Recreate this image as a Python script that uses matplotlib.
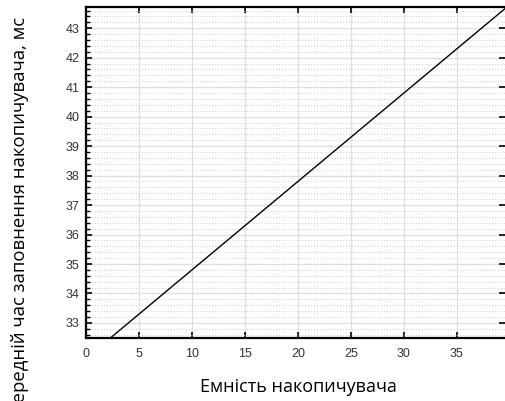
import numpy as np
import matplotlib
matplotlib.use('Agg')
import matplotlib.pyplot as plt
from matplotlib.ticker import MultipleLocator

# ємність накопичувача і середній час заповнення (мс)
capacity = [0, 10, 20, 30, 40]
fill_time = [31.8, 34.8, 37.8, 40.8, 43.8]

x_ticks = [0, 5, 10, 15, 20, 25, 30, 35]
y_ticks = [33, 34, 35, 36, 37, 38, 39, 40, 41, 42, 43]

fig = plt.figure(figsize=(5.05, 4.01), dpi=100)
ax = fig.add_axes([86 / 505, 1 - 338 / 401, 1 - 86 / 505, (338 - 7) / 401])

ax.plot(capacity, fill_time, color='black', lw=1.0)

ax.set_xlim(0, 39.55)
ax.set_ylim(32.49, 43.72)
ax.set_xticks(x_ticks)
ax.set_yticks(y_ticks)
ax.yaxis.set_minor_locator(MultipleLocator(0.2))

# сітка: суцільні основні лінії та пунктирні допоміжні
ax.grid(which='major', color='#dedede', lw=0.9, ls='-')
ax.grid(which='minor', axis='y', color='#cccccc', lw=0.7, ls=(0, (1, 2)))
ax.set_axisbelow(True)

tick_font = {'family': 'Liberation Sans', 'size': 9}
ax.set_xticklabels([str(t) for t in x_ticks], fontdict=tick_font, color='#333333')
ax.set_yticklabels([str(t) for t in y_ticks], fontdict=tick_font, color='#333333')

ax.tick_params(which='major', direction='in', length=4, width=1.2,
               top=True, right=True, color='black')
ax.tick_params(axis='x', which='major', pad=7.5)
ax.tick_params(axis='y', which='major', pad=4.5)
ax.tick_params(which='minor', direction='in', length=3, width=1.0,
               left=True, right=False, top=False, bottom=False, color='black')

for side in ['left', 'bottom', 'top']:
    ax.spines[side].set_linewidth(1.6)
    ax.spines[side].set_color('black')
ax.spines['right'].set_visible(False)

fig.text(298 / 505, 1 - 392 / 401, 'Емність накопичувача',
         family='Open Sans', size=13, ha='center', va='baseline')
# підпис осі Y довший за висоту рисунка, початок обрізається краєм
fig.text(20 / 505, 1 - 17 / 401, 'Середній час заповнення накопичувача, мс',
         family='Open Sans', size=13.35, rotation=90, ha='center', va='top')

fig.savefig('out.png', dpi=100)
